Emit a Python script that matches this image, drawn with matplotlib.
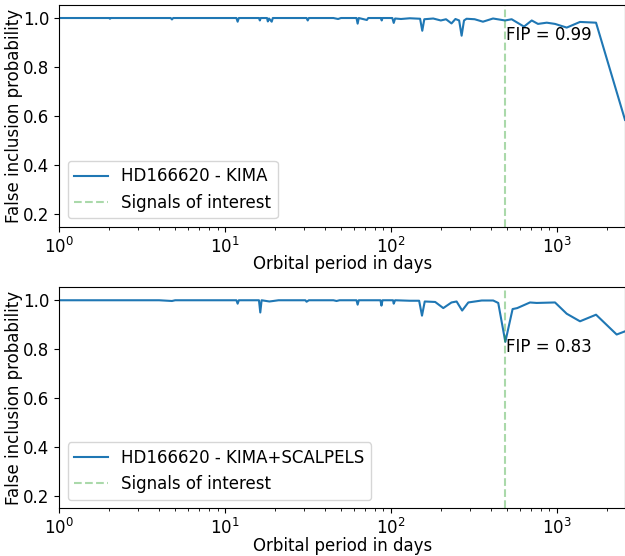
import numpy as np
import matplotlib
matplotlib.use("Agg")
import matplotlib.pyplot as plt

# FIP curves (period in days, false inclusion probability)
period_kima = [1.0, 2.0, 2.02, 2.05, 4.7, 4.78, 4.86, 8.0, 11.7, 11.9, 12.1,
               16.0, 16.2, 16.4, 17.9, 18.1, 18.4, 19.1, 19.4, 31.0, 31.5, 32.0,
               45, 48, 50, 62, 63, 64, 71.6, 73, 87, 88, 89, 102, 104, 106, 115,
               130, 150, 154.6, 159, 180, 200, 215, 232, 245, 258, 267, 276, 286,
               320, 359, 413, 488, 535, 635, 707, 771, 871, 977, 1149, 1382,
               1727, 2582]
fip_kima = [1.0, 1.0, 0.997, 1.0, 1.0, 0.994, 1.0, 1.0, 1.0, 0.985, 1.0,
            1.0, 0.99, 1.0, 1.0, 0.986, 0.998, 0.985, 1.0, 1.0, 0.99, 1.0,
            1.0, 0.996, 1.0, 1.0, 0.977, 1.0, 0.992, 1.0, 1.0, 0.99, 1.0, 1.0,
            0.98, 0.998, 0.996, 0.999, 0.997, 0.948, 0.995, 0.998, 0.99, 0.995,
            0.978, 0.996, 0.99, 0.928, 0.99, 0.997, 0.995, 0.985, 0.998, 0.99,
            0.995, 0.965, 0.99, 0.976, 0.981, 0.976, 0.961, 0.984, 0.981, 0.585]

period_scal = [1.0, 4.0, 4.78, 5.0, 11.7, 11.9, 12.1, 16.0, 16.3, 16.6, 18.5,
               19.5, 21, 30.5, 31, 32, 45, 47, 49, 62, 63, 64, 86.5, 87.7, 89,
               103, 104, 106, 130, 148, 154, 160, 185, 207, 232, 249, 269, 293,
               353, 414, 444, 490, 542, 578, 690, 757, 977, 1149, 1382, 1727,
               2300, 2582]
fip_scal = [1.0, 1.0, 0.997, 1.0, 1.0, 0.986, 1.0, 1.0, 0.95, 1.0, 0.995,
            0.997, 1.0, 1.0, 0.994, 1.0, 1.0, 0.997, 1.0, 1.0, 0.982, 1.0, 1.0,
            0.978, 1.0, 1.0, 0.986, 1.0, 0.998, 0.998, 0.937, 0.995, 0.993,
            0.968, 0.991, 0.995, 0.958, 0.991, 0.999, 0.999, 0.989, 0.83,
            0.964, 0.968, 0.991, 0.989, 0.991, 0.945, 0.914, 0.941, 0.86, 0.873]

signal_period = 490
labels = ["HD166620 - KIMA", "HD166620 - KIMA+SCALPELS"]
fip_texts = ["FIP = 0.99", "FIP = 0.83"]
text_y = [0.93, 0.81]

plt.rcParams['font.size'] = 12

fig = plt.figure(figsize=(6.25, 5.56), dpi=100)
ax1 = fig.add_axes([0.0949, 0.5923, 0.9051, 0.3987])
ax2 = fig.add_axes([0.0949, 0.0858, 0.9051, 0.3975])

curves = [(period_kima, fip_kima), (period_scal, fip_scal)]
for ax, (p, f), lab, txt, ty in zip([ax1, ax2], curves, labels, fip_texts, text_y):
    ax.plot(p, f, color='tab:blue', lw=1.5, label=lab)
    ax.axvline(signal_period, color='tab:green', ls='--', alpha=0.4,
               label="Signals of interest")
    ax.text(signal_period * 1.01, ty, txt, ha='left', va='center')
    ax.set_xscale('log')
    ax.set_xlim(1, 2582)
    ax.set_ylim(0.15, 1.053)
    ax.set_yticks([0.2, 0.4, 0.6, 0.8, 1.0])
    ax.set_xlabel("Orbital period in days", labelpad=-1)
    ax.set_ylabel("False inclusion probability", labelpad=0)
    ax.legend(loc='lower left')

fig.savefig("out.png", dpi=100)
